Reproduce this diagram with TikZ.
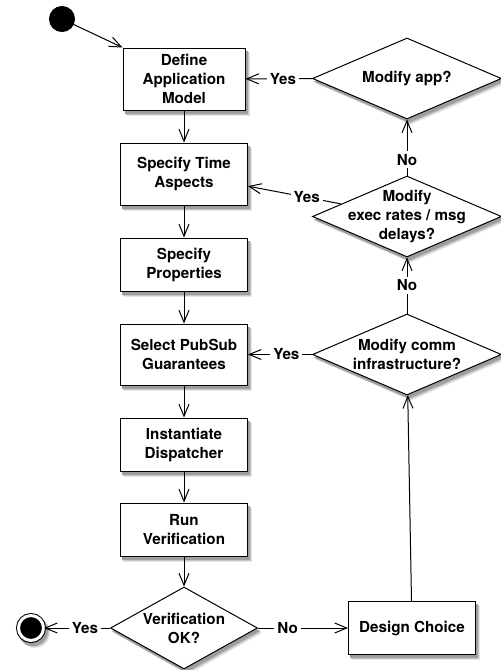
\documentclass[tikz,border=0pt]{standalone}
\usepackage{fontspec}
\setmainfont{TeX Gyre Heros}
\usepackage{tikz}
\usetikzlibrary{shapes,arrows,positioning,calc,backgrounds,arrows.meta}

\begin{document}
\begin{tikzpicture}[x=1pt, y=1pt, node distance=32pt,
        font=\bfseries\fontsize{15.2}{19}\selectfont,
        line width=1pt,
        block/.style={draw, fill=white, rectangle, minimum width=127pt, minimum height=53pt, align=center, inner sep=2pt},
        decision/.style={draw, fill=white, diamond, minimum width=189pt, minimum height=81pt, inner sep=0pt},
        initial/.style={draw, circle, fill=black, minimum size=25pt, inner sep=0pt},
        final/.style={draw, circle, fill=black, double=white, double distance=3pt, minimum size=25pt, inner sep=0pt},
        lbl/.style={fill=white, inner sep=3pt},
        >={Straight Barb[length=12pt,width=10pt]}
    ]
        \useasboundingbox (0,0) rectangle (501,-670);

        \node [initial] (start) at (62,-19) {};
        \node [block, minimum width=122pt, minimum height=62pt] (app) at (184,-79) {Define\\Application\\Model};
        \node [block, minimum height=62pt, below=32pt of app] (time) {Specify Time\\Aspects};
        \node [block, below=32pt of time] (props) {Specify\\Properties};
        \node [block, minimum height=61pt, below=32pt of props] (pubsub) {Select PubSub\\Guarantees};
        \node [block, below=32pt of pubsub] (disp) {Instantiate\\Dispatcher};
        \node [block, below=31pt of disp] (run) {Run\\Verification};
        \node [decision, minimum width=147pt, minimum height=82pt, below=30pt of run,
               label={[align=center]center:Verification\\OK?}] (verif) {};
        \node [final, left=66pt of verif] (finish) {};
        \node [block, right=90pt of verif] (design) {Design Choice};
        \node [decision, right=64pt of pubsub,
               label={[align=center]center:Modify comm\\infrastructure?}] (modcomm) {};
        \node [decision, above=56pt of modcomm,
               label={[align=center]center:Modify\\exec rates / msg\\delays?}] (modrate) {};
        \node [decision, above=56pt of modrate,
               label={center:Modify app?}] (modapp) {};

        \begin{scope}[on background layer]
            \foreach \d/\c in {5/black!10, 4/black!22, 3/black!38} {
                \foreach \n in {app,time,props,pubsub,disp,run,design}
                    \fill [\c] ($(\n.south west)+(\d-1,-\d)$) rectangle ($(\n.north east)+(\d-1,-\d)$);
                \foreach \n in {verif,modcomm,modrate,modapp}
                    \fill [\c] ($(\n.north)+(\d-1,-\d)$) -- ($(\n.east)+(\d-1,-\d)$)
                        -- ($(\n.south)+(\d-1,-\d)$) -- ($(\n.west)+(\d-1,-\d)$) -- cycle;
                \fill [\c] ($(finish.center)+(\d-1,-\d)$) circle (15pt);
            }
        \end{scope}

        \draw [->] (start) -- (app.north west);
        \draw [->] (app) -- (time);
        \draw [->] (time) -- (props);
        \draw [->] (props) -- (pubsub);
        \draw [->] (pubsub) -- (disp);
        \draw [->] (disp) -- (run);
        \draw [->] (run) -- (verif);
        \draw [->] (verif) -- node[lbl, pos=0.38]{Yes} (finish);
        \draw [->] (verif) -- node[lbl, pos=0.33]{No} (design);
        \draw [->] (design) -- (modcomm);
        \draw [->] (modcomm) -- node[lbl, pos=0.5]{No} (modrate);
        \draw [->] (modrate) -- node[lbl, pos=0.28]{No} (modapp);
        \draw [->] (modapp) -- node[lbl, pos=0.44]{Yes} (app);
        \draw [->] (modrate) -- node[lbl, pos=0.37]{Yes} (time);
        \draw [->] (modcomm) -- node[lbl, pos=0.4]{Yes} (pubsub);

    \end{tikzpicture}
\end{document}
